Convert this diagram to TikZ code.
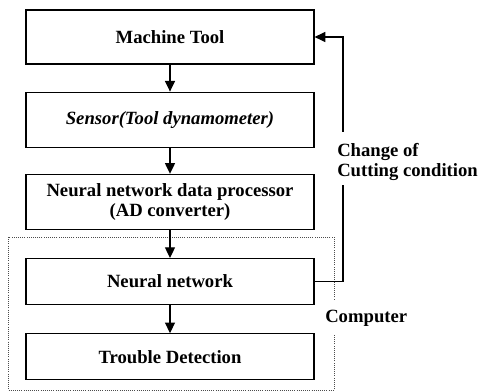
\documentclass[tikz,border=0pt]{standalone}
\usepackage{fontspec}
\setmainfont{Liberation Serif}
\usepackage{tikz}
\usetikzlibrary{arrows.meta,positioning,calc}
\tikzset{
	blk/.style  = {rectangle,draw=black,line width=0.9pt,
		minimum width=216pt,inner sep=0pt,align=center,
		font=\fontsize{14}{15}\selectfont\bfseries},
	lbl/.style  = {align=left,inner sep=0pt,
		font=\fontsize{14}{15}\selectfont\bfseries},
	arr/.style  = {-{Triangle[width=7.5pt,length=8pt]},line width=0.9pt},
	comp/.style = {draw=black!70,densely dotted,line width=0.6pt},
}

\begin{document}
\begin{tikzpicture}
		\useasboundingbox (0,0) rectangle (359.25pt,-294pt);
		
		%% Blocs
		\node (mt)  [blk,minimum height=40.5pt] at (127.5pt,-27.75pt) {Machine Tool};
		\node (sen) [blk,minimum height=41.25pt,below=20.25pt of mt]
		{\itshape Sensor(Tool dynamometer)};
		\node (ndp) [blk,minimum height=41.25pt,below=19.5pt of sen]
		{Neural network data processor\\(AD converter)};
		\node (nn)  [blk,minimum height=34.5pt,below=21pt of ndp] {Neural network};
		\node (td)  [blk,minimum height=34.5pt,below=21pt of nn] {Trouble Detection};
		
		%% Cadre ordinateur
		\draw[comp] (6pt,-177.75pt) rectangle (250.5pt,-292.5pt);
		\node (cpu) [lbl,fill=white,minimum height=24.75pt,anchor=west]
		at (243.75pt,-238.5pt) {Computer};
		
		%% Fleches
		\draw[arr] (mt)  -- (sen);
		\draw[arr] (sen) -- (ndp);
		\draw[arr] (ndp) -- (nn);
		\draw[arr] (nn)  -- (td);
		
		%% Retour
		\coordinate (fbtop) at (257.25pt,-99pt);
		\coordinate (fbbot) at (257.25pt,-138.75pt);
		\draw[line width=0.9pt] (nn.east) -| (fbbot);
		\draw[arr] (fbtop) |- (mt.east);
		\node (chg) [lbl,anchor=west] at (252.75pt,-121.5pt)
		{Change of\\Cutting condition};
	\end{tikzpicture}
\end{document}
